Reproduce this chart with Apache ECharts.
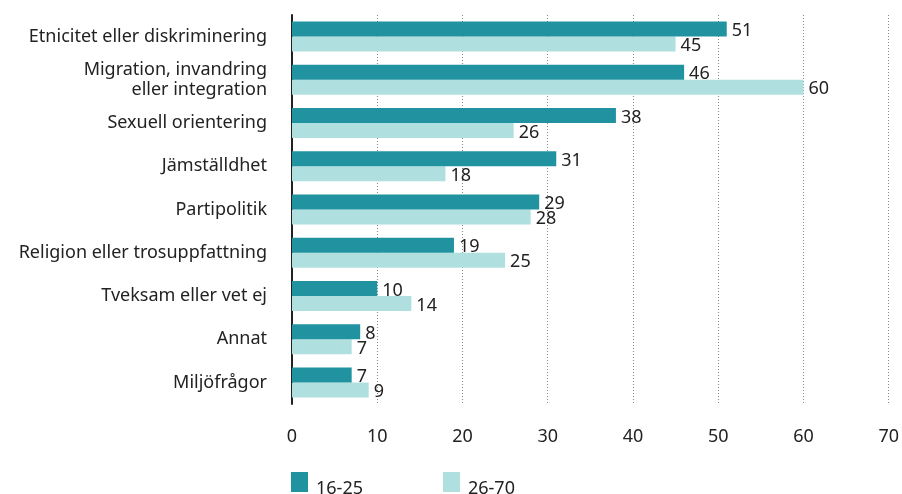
<!DOCTYPE html>
<html><head><meta charset="utf-8">
<script src="https://cdn.jsdelivr.net/npm/echarts@6/dist/echarts.min.js"></script>
<style>html,body{margin:0;padding:0;background:#fff}#c{width:902px;height:494px}</style>
</head><body><div id="c"></div>
<script>
const categories = ["Etnicitet eller diskriminering","Migration, invandring\neller integration","Sexuell orientering","Jämställdhet","Partipolitik","Religion eller trosuppfattning","Tveksam eller vet ej","Annat","Miljöfrågor"];
const series1625 = [51,46,38,31,29,19,10,8,7];
const series2670 = [45,60,26,18,28,25,14,7,9];
const xTicks = [0,10,20,30,40,50,60,70];
const FONT = "Noto Sans";
const FS = 18;
const chart = echarts.init(document.getElementById('c'));
const lbl = {show:true, position:'right', distance:5, color:'#222', fontSize:FS, fontFamily:FONT,
  formatter:'{v|{c}}', rich:{v:{fontSize:FS, fontFamily:FONT, color:'#222', padding:[4,0,0,0]}}};
chart.setOption({
  animation:false,
  textStyle:{fontFamily:FONT},
  grid:{left:292, right:12, top:15, bottom:90, containLabel:false},
  legend:{left:291, top:472, padding:0, itemWidth:17, itemHeight:20, itemGap:80, icon:'rect',
    formatter:'{t|{name}}',
    textStyle:{fontSize:FS, color:'#222', fontFamily:FONT,
      rich:{t:{fontSize:FS, color:'#222', fontFamily:FONT, padding:[14,0,0,3]}}},
    data:['16-25','26-70']},
  xAxis:{type:'value', min:0, max:70, interval:10,
    axisLine:{show:false}, axisTick:{show:false},
    axisLabel:{fontSize:FS, color:'#222', fontFamily:FONT, margin:24, formatter:v=>xTicks.includes(v)?String(v):''},
    splitLine:{show:true, lineStyle:{type:[1,2], color:'#888', width:1}}},
  yAxis:{type:'category', data:categories, inverse:true,
    axisLine:{show:true, lineStyle:{color:'#222', width:2}}, axisTick:{show:false},
    axisLabel:{fontSize:FS, color:'#222', fontFamily:FONT, margin:25, align:'right', lineHeight:20}},
  series:[
    {name:'16-25', type:'bar', data:series1625, barWidth:15, barGap:'0%', itemStyle:{color:'#2092a0'}, label:lbl, z:3},
    {name:'26-70', type:'bar', data:series2670, barWidth:15, barGap:'0%', itemStyle:{color:'#b0dfe0'}, label:lbl, z:2}
  ]
});
</script></body></html>
